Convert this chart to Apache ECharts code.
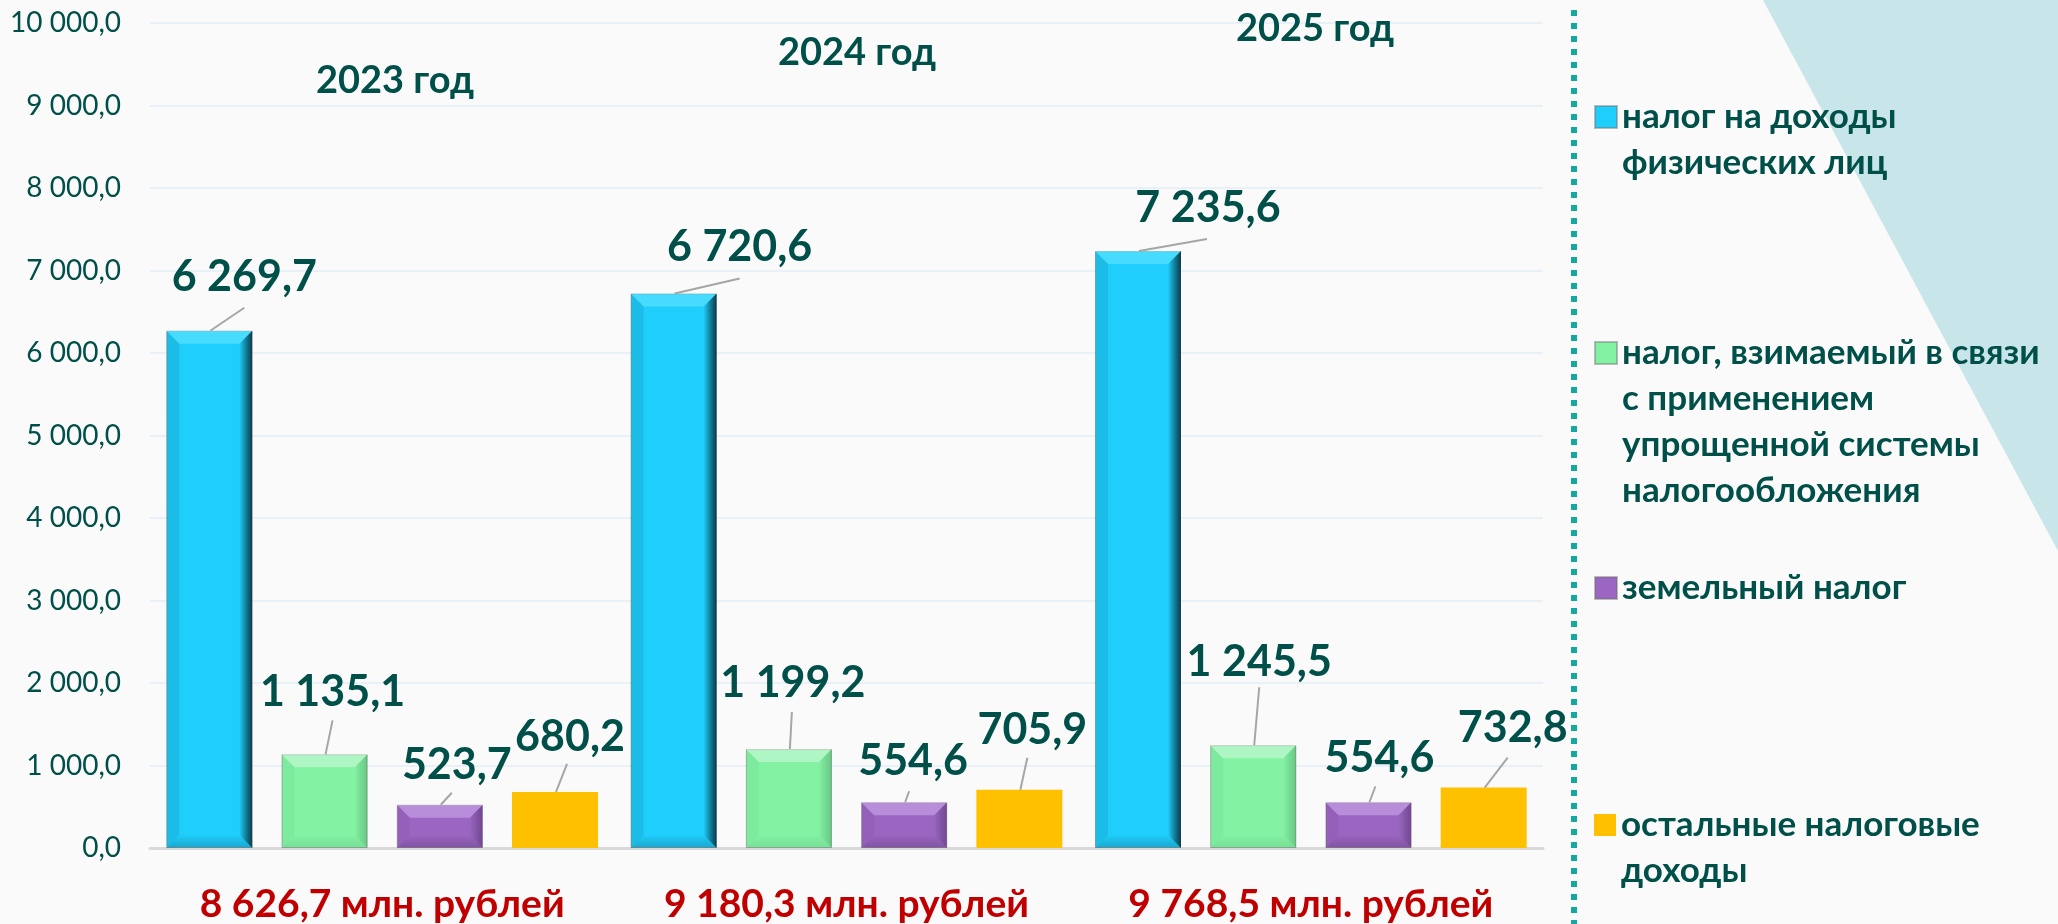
<!DOCTYPE html>
<html>
<head>
<meta charset="utf-8">
<script src="https://cdn.jsdelivr.net/npm/echarts@6/dist/echarts.min.js"></script>
<style>
html,body{margin:0;padding:0;background:#FAFAFA;}
#chart{width:2058px;height:924px;}
</style>
</head>
<body>
<div id="chart"></div>
<script>
// ---------- data ----------
const categories = ['8 626,7 млн. рублей', '9 180,3 млн. рублей', '9 768,5 млн. рублей'];
const years = ['2023 год', '2024 год', '2025 год'];
const seriesNames = [
  'налог на доходы\nфизических лиц',
  'налог, взимаемый в связи\nс применением\nупрощенной системы\nналогообложения',
  'земельный налог',
  'остальные налоговые\nдоходы'
];
const ndfl  = [6269.7, 6720.6, 7235.6];
const usn   = [1135.1, 1199.2, 1245.5];
const land  = [523.7, 554.6, 554.6];
const other = [680.2, 705.9, 732.8];
const yMin = 0, yMax = 10000, yInterval = 1000;

// ---------- styling ----------
const FONT = 'Lato, "Open Sans", sans-serif';
const TEAL_TEXT = '#00504A';
const colors = ['#1FCEFB', '#83F2A3', '#9A66C1', '#FFC000'];
const BAR_W = 86, BAR_GAP = 0.34;
const LEG_LH = 46;
// label centre offsets relative to the bar's top centre
const labelOff = [
  [[35, -54], [66, -46], [70, -43]],
  [[8, -62], [4, -66], [6, -83]],
  [[17, -40], [9, -41], [11, -44]],
  [[15, -55], [13, -60], [29, -59]]
];
// leader-line end offsets relative to the bar's top centre
const leadOff = [
  [[35, -23], [66, -15], [69, -12]],
  [[8, -34], [3, -37], [6, -58]],
  [[12, -12], [5, -11], [7, -16]],
  [[12, -28], [8, -32], [24, -30]]
];
const bevel = [
  {top: 'rgba(120,235,255,0.45)', left: 'rgba(0,40,60,0.10)', right: 'rgba(0,25,35,0.8)', bottom: 'rgba(0,40,60,0.22)'},
  {top: 'rgba(255,255,255,0.35)', left: 'rgba(0,60,20,0.04)', right: 'rgba(0,60,20,0.22)', bottom: 'rgba(0,60,20,0.10)'},
  {top: 'rgba(230,200,255,0.40)', left: 'rgba(40,0,60,0.05)', right: 'rgba(40,0,60,0.32)', bottom: 'rgba(40,0,60,0.20)'},
  null
];
const legendIconY = [117, 353, 588, 825];

function fmt(v) {
  const p = Number(v).toFixed(1).split('.');
  return p[0].replace(/\B(?=(\d{3})+(?!\d))/g, ' ') + ',' + p[1];
}

const allSeriesData = [ndfl, usn, land, other];

function barGeom(api, c, s, v) {
  const top = api.coord([c, v]);
  const base = api.coord([c, 0]);
  const n = allSeriesData.length;
  const step = BAR_W * (1 + BAR_GAP);
  const cx = top[0] + (s - (n - 1) / 2) * step;
  return {cx: cx, x0: cx - BAR_W / 2, x1: cx + BAR_W / 2, y0: top[1], y1: base[1]};
}

const overlayData = [];
allSeriesData.forEach(function (arr, s) {
  arr.forEach(function (v, c) { overlayData.push([c, v, s]); });
});

const barSeries = allSeriesData.map(function (arr, s) {
  return {
    name: seriesNames[s],
    type: 'bar',
    data: arr,
    barWidth: BAR_W,
    barGap: (BAR_GAP * 100) + '%',
    itemStyle: {color: colors[s], borderColor: s === 3 ? colors[s] : 'rgba(110,110,110,0.45)', borderWidth: s === 3 ? 0 : 1},
    label: {
      show: true,
      position: 'top',
      formatter: function (p) { return fmt(p.value); },
      fontFamily: FONT, fontSize: 43, fontWeight: 'bold', color: TEAL_TEXT
    },
    labelLayout: function (p) {
      const off = labelOff[s][p.dataIndex];
      const r = p.rect;
      const topY = Math.min(r.y, r.y + r.height);
      return {x: r.x + r.width / 2 + off[0], y: topY + off[1], align: 'center', verticalAlign: 'middle'};
    },
    z: 2
  };
});

const bevelSeries = {
  type: 'custom',
  silent: true,
  z: 3,
  encode: {x: 0, y: 1},
  data: overlayData,
  renderItem: function (params, api) {
    const c = api.value(0), v = api.value(1), s = api.value(2);
    const b = bevel[s];
    if (!b) return {type: 'group', children: []};
    const g = barGeom(api, c, s, v);
    const k = Math.min(13, (g.y1 - g.y0) / 2);
    return {
      type: 'group',
      children: [
        {type: 'polygon', shape: {points: [[g.x0, g.y0], [g.x1, g.y0], [g.x1 - k, g.y0 + k], [g.x0 + k, g.y0 + k]]}, style: {fill: b.top}},
        {type: 'polygon', shape: {points: [[g.x0, g.y0], [g.x0 + k, g.y0 + k], [g.x0 + k, g.y1 - k], [g.x0, g.y1]]}, style: {fill: b.left}},
        {type: 'polygon', shape: {points: [[g.x1, g.y0], [g.x1, g.y1], [g.x1 - k, g.y1 - k], [g.x1 - k, g.y0 + k]]},
          style: {fill: new echarts.graphic.LinearGradient(0, 0, 1, 0, [{offset: 0, color: 'rgba(0,0,0,0)'}, {offset: 1, color: b.right}])}},
        {type: 'polygon', shape: {points: [[g.x0, g.y1], [g.x0 + k, g.y1 - k], [g.x1 - k, g.y1 - k], [g.x1, g.y1]]},
          style: {fill: new echarts.graphic.LinearGradient(0, 0, 0, 1, [{offset: 0, color: 'rgba(0,0,0,0)'}, {offset: 1, color: b.bottom}])}}
      ]
    };
  }
};

const leaderSeries = {
  type: 'custom',
  silent: true,
  z: 4,
  encode: {x: 0, y: 1},
  data: overlayData,
  renderItem: function (params, api) {
    const c = api.value(0), v = api.value(1), s = api.value(2);
    const g = barGeom(api, c, s, v);
    const e = leadOff[s][c];
    return {
      type: 'line',
      shape: {x1: g.cx + 1, y1: g.y0, x2: g.cx + e[0], y2: g.y0 + e[1]},
      style: {stroke: '#A6A6A6', lineWidth: 2}
    };
  }
};

const legends = seriesNames.map(function (name, i) {
  const n = name.split('\n').length;
  return {
    data: [name],
    orient: 'vertical',
    left: 1594,
    top: legendIconY[i] - (2 * n - 1) * LEG_LH / 2,
    padding: 0,
    icon: 'rect',
    itemWidth: 22,
    itemHeight: 22,
    selectedMode: false,
    formatter: function (nm) { return '\n'.repeat(n - 1) + nm; },
    textStyle: {
      fontFamily: FONT, fontSize: 35, fontWeight: 'bold', color: TEAL_TEXT,
      lineHeight: LEG_LH
    }
  };
});

const yearPos = [[395, 81], [857, 53], [1315, 29]];

const chart = echarts.init(document.getElementById('chart'), null, {renderer: 'canvas'});
chart.setOption({
  backgroundColor: '#FAFAFA',
  animation: false,
  grid: {left: 150, right: 515, top: 23, bottom: 76, containLabel: false},
  xAxis: {
    type: 'category',
    data: categories,
    axisLine: {show: true, lineStyle: {color: '#D9D9D9', width: 3}},
    axisTick: {show: false},
    axisLabel: {interval: 0, hideOverlap: false, margin: 37, fontFamily: FONT, fontSize: 39, fontWeight: 'bold', color: '#C00000'}
  },
  yAxis: {
    type: 'value',
    min: yMin, max: yMax, interval: yInterval,
    axisLine: {show: false},
    axisTick: {show: false},
    splitLine: {lineStyle: {color: '#E8F1F7', width: 2}},
    axisLabel: {margin: 29, fontFamily: FONT, fontSize: 28, color: TEAL_TEXT, formatter: fmt}
  },
  legend: legends,
  graphic: [
    {type: 'polygon', z: -10, silent: true, shape: {points: [[1763, 0], [2058, 0], [2058, 551]]}, style: {fill: '#C8E6EA'}},
    {type: 'line', z: -5, silent: true, shape: {x1: 1574, y1: 10, x2: 1574, y2: 924}, style: {stroke: '#15A89F', lineWidth: 6, lineDash: [6, 7]}}
  ].concat(years.map(function (y, i) {
    return {type: 'text', silent: true, z: 20, x: yearPos[i][0], y: yearPos[i][1],
      style: {text: y, align: 'center', verticalAlign: 'middle', fontFamily: FONT, fontSize: 38, fontWeight: 'bold', fill: TEAL_TEXT}};
  })),
  series: barSeries.concat([bevelSeries, leaderSeries])
});
</script>
</body>
</html>
